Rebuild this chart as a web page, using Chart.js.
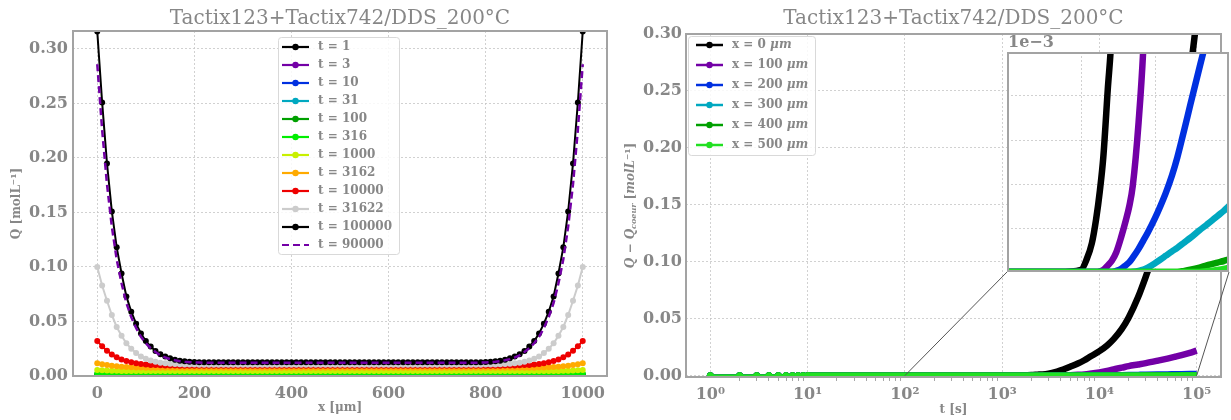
<!DOCTYPE html>
<html>
<head>
<meta charset="utf-8">
<title>Tactix123+Tactix742/DDS_200°C</title>
<script src="https://cdn.jsdelivr.net/npm/chart.js@4.4.1/dist/chart.umd.min.js"></script>
<style>
  body { margin: 0; background: #fff; }
  #page { position: relative; width: 1231px; height: 420px; overflow: hidden; }
  #page canvas { position: absolute; }
</style>
</head>
<body>
<div id="page">
  <canvas id="profiles" width="616" height="420" style="left:0;top:0"></canvas>
  <canvas id="kinetics" width="615" height="420" style="left:616px;top:0"></canvas>
  <canvas id="zoom" width="222" height="220" style="left:1007px;top:52px"></canvas>
</div>
<script>
// ---------- left panel : Q(x) profiles ----------
const depthX = [0,10,20,30,40,50,60,70,80,90,
  100,110,120,130,140,150,160,170,180,190,
  200,210,220,230,240,250,260,270,280,290,
  300,310,320,330,340,350,360,370,380,390,
  400,410,420,430,440,450,460,470,480,490,
  500,510,520,530,540,550,560,570,580,590,
  600,610,620,630,640,650,660,670,680,690,
  700,710,720,730,740,750,760,770,780,790,
  800,810,820,830,840,850,860,870,880,890,
  900,910,920,930,940,950,960,970,980,990,
  1000];

const profileTimes = [1, 3, 10, 31, 100, 316, 1000, 3162, 10000, 31622, 100000];

const q_t1 = [0.0007,0.0007,0.0007,0.0007,0.0007,0.0007,0.0007,0.0007,0.0007,0.0007,
  0.0007,0.0007,0.0007,0.0007,0.0007,0.0007,0.0007,0.0007,0.0007,0.0007,
  0.0007,0.0007,0.0007,0.0007,0.0007,0.0007,0.0007,0.0007,0.0007,0.0007,
  0.0007,0.0007,0.0007,0.0007,0.0007,0.0007,0.0007,0.0007,0.0007,0.0007,
  0.0007,0.0007,0.0007,0.0007,0.0007,0.0007,0.0007,0.0007,0.0007,0.0007,
  0.0007,0.0007,0.0007,0.0007,0.0007,0.0007,0.0007,0.0007,0.0007,0.0007,
  0.0007,0.0007,0.0007,0.0007,0.0007,0.0007,0.0007,0.0007,0.0007,0.0007,
  0.0007,0.0007,0.0007,0.0007,0.0007,0.0007,0.0007,0.0007,0.0007,0.0007,
  0.0007,0.0007,0.0007,0.0007,0.0007,0.0007,0.0007,0.0007,0.0007,0.0007,
  0.0007,0.0007,0.0007,0.0007,0.0007,0.0007,0.0007,0.0007,0.0007,0.0007,
  0.0007];
const q_t3 = [0.0008,0.0008,0.0008,0.0008,0.0008,0.0008,0.0008,0.0008,0.0008,0.0008,
  0.0008,0.0008,0.0008,0.0008,0.0008,0.0008,0.0008,0.0008,0.0008,0.0008,
  0.0008,0.0008,0.0008,0.0008,0.0008,0.0008,0.0008,0.0008,0.0008,0.0008,
  0.0008,0.0008,0.0008,0.0008,0.0008,0.0008,0.0008,0.0008,0.0008,0.0008,
  0.0008,0.0008,0.0008,0.0008,0.0008,0.0008,0.0008,0.0008,0.0008,0.0008,
  0.0008,0.0008,0.0008,0.0008,0.0008,0.0008,0.0008,0.0008,0.0008,0.0008,
  0.0008,0.0008,0.0008,0.0008,0.0008,0.0008,0.0008,0.0008,0.0008,0.0008,
  0.0008,0.0008,0.0008,0.0008,0.0008,0.0008,0.0008,0.0008,0.0008,0.0008,
  0.0008,0.0008,0.0008,0.0008,0.0008,0.0008,0.0008,0.0008,0.0008,0.0008,
  0.0008,0.0008,0.0008,0.0008,0.0008,0.0008,0.0008,0.0008,0.0008,0.0008,
  0.0008];
const q_t10 = [0.0009,0.0009,0.0009,0.0009,0.0009,0.0009,0.0009,0.0009,0.0009,0.0009,
  0.0009,0.0009,0.0009,0.0009,0.0009,0.0009,0.0009,0.0009,0.0009,0.0009,
  0.0009,0.0009,0.0009,0.0009,0.0009,0.0009,0.0009,0.0009,0.0009,0.0009,
  0.0009,0.0009,0.0009,0.0009,0.0009,0.0009,0.0009,0.0009,0.0009,0.0009,
  0.0009,0.0009,0.0009,0.0009,0.0009,0.0009,0.0009,0.0009,0.0009,0.0009,
  0.0009,0.0009,0.0009,0.0009,0.0009,0.0009,0.0009,0.0009,0.0009,0.0009,
  0.0009,0.0009,0.0009,0.0009,0.0009,0.0009,0.0009,0.0009,0.0009,0.0009,
  0.0009,0.0009,0.0009,0.0009,0.0009,0.0009,0.0009,0.0009,0.0009,0.0009,
  0.0009,0.0009,0.0009,0.0009,0.0009,0.0009,0.0009,0.0009,0.0009,0.0009,
  0.0009,0.0009,0.0009,0.0009,0.0009,0.0009,0.0009,0.0009,0.0009,0.0009,
  0.0009];
const q_t31 = [0.0010,0.0010,0.0010,0.0010,0.0010,0.0010,0.0010,0.0010,0.0010,0.0010,
  0.0010,0.0010,0.0010,0.0010,0.0010,0.0010,0.0010,0.0010,0.0010,0.0010,
  0.0010,0.0010,0.0010,0.0010,0.0010,0.0010,0.0010,0.0010,0.0010,0.0010,
  0.0010,0.0010,0.0010,0.0010,0.0010,0.0010,0.0010,0.0010,0.0010,0.0010,
  0.0010,0.0010,0.0010,0.0010,0.0010,0.0010,0.0010,0.0010,0.0010,0.0010,
  0.0010,0.0010,0.0010,0.0010,0.0010,0.0010,0.0010,0.0010,0.0010,0.0010,
  0.0010,0.0010,0.0010,0.0010,0.0010,0.0010,0.0010,0.0010,0.0010,0.0010,
  0.0010,0.0010,0.0010,0.0010,0.0010,0.0010,0.0010,0.0010,0.0010,0.0010,
  0.0010,0.0010,0.0010,0.0010,0.0010,0.0010,0.0010,0.0010,0.0010,0.0010,
  0.0010,0.0010,0.0010,0.0010,0.0010,0.0010,0.0010,0.0010,0.0010,0.0010,
  0.0010];
const q_t100 = [0.0015,0.0014,0.0013,0.0012,0.0012,0.0012,0.0012,0.0012,0.0012,0.0012,
  0.0012,0.0012,0.0012,0.0012,0.0012,0.0012,0.0012,0.0012,0.0012,0.0012,
  0.0012,0.0012,0.0012,0.0012,0.0012,0.0012,0.0012,0.0012,0.0012,0.0012,
  0.0012,0.0012,0.0012,0.0012,0.0012,0.0012,0.0012,0.0012,0.0012,0.0012,
  0.0012,0.0012,0.0012,0.0012,0.0012,0.0012,0.0012,0.0012,0.0012,0.0012,
  0.0012,0.0012,0.0012,0.0012,0.0012,0.0012,0.0012,0.0012,0.0012,0.0012,
  0.0012,0.0012,0.0012,0.0012,0.0012,0.0012,0.0012,0.0012,0.0012,0.0012,
  0.0012,0.0012,0.0012,0.0012,0.0012,0.0012,0.0012,0.0012,0.0012,0.0012,
  0.0012,0.0012,0.0012,0.0012,0.0012,0.0012,0.0012,0.0012,0.0012,0.0012,
  0.0012,0.0012,0.0012,0.0012,0.0012,0.0012,0.0012,0.0012,0.0013,0.0014,
  0.0015];
const q_t316 = [0.0024,0.0022,0.0021,0.0020,0.0019,0.0019,0.0018,0.0018,0.0018,0.0018,
  0.0018,0.0018,0.0018,0.0018,0.0018,0.0018,0.0018,0.0018,0.0018,0.0018,
  0.0018,0.0018,0.0018,0.0018,0.0018,0.0018,0.0018,0.0018,0.0018,0.0018,
  0.0018,0.0018,0.0018,0.0018,0.0018,0.0018,0.0018,0.0018,0.0018,0.0018,
  0.0018,0.0018,0.0018,0.0018,0.0018,0.0018,0.0018,0.0018,0.0018,0.0018,
  0.0018,0.0018,0.0018,0.0018,0.0018,0.0018,0.0018,0.0018,0.0018,0.0018,
  0.0018,0.0018,0.0018,0.0018,0.0018,0.0018,0.0018,0.0018,0.0018,0.0018,
  0.0018,0.0018,0.0018,0.0018,0.0018,0.0018,0.0018,0.0018,0.0018,0.0018,
  0.0018,0.0018,0.0018,0.0018,0.0018,0.0018,0.0018,0.0018,0.0018,0.0018,
  0.0018,0.0018,0.0018,0.0018,0.0018,0.0019,0.0019,0.0020,0.0021,0.0022,
  0.0024];
const q_t1000 = [0.0056,0.0053,0.0051,0.0049,0.0048,0.0047,0.0046,0.0046,0.0045,0.0045,
  0.0045,0.0045,0.0045,0.0045,0.0045,0.0045,0.0045,0.0045,0.0045,0.0045,
  0.0045,0.0045,0.0045,0.0045,0.0045,0.0045,0.0045,0.0045,0.0045,0.0045,
  0.0045,0.0045,0.0045,0.0045,0.0045,0.0045,0.0045,0.0045,0.0045,0.0045,
  0.0045,0.0045,0.0045,0.0045,0.0045,0.0045,0.0045,0.0045,0.0045,0.0045,
  0.0045,0.0045,0.0045,0.0045,0.0045,0.0045,0.0045,0.0045,0.0045,0.0045,
  0.0045,0.0045,0.0045,0.0045,0.0045,0.0045,0.0045,0.0045,0.0045,0.0045,
  0.0045,0.0045,0.0045,0.0045,0.0045,0.0045,0.0045,0.0045,0.0045,0.0045,
  0.0045,0.0045,0.0045,0.0045,0.0045,0.0045,0.0045,0.0045,0.0045,0.0045,
  0.0045,0.0045,0.0045,0.0046,0.0046,0.0047,0.0048,0.0049,0.0051,0.0053,
  0.0056];
const q_t3162 = [0.0118,0.0108,0.0100,0.0094,0.0089,0.0085,0.0082,0.0080,0.0078,0.0077,
  0.0076,0.0076,0.0075,0.0075,0.0075,0.0075,0.0075,0.0075,0.0075,0.0075,
  0.0075,0.0075,0.0075,0.0075,0.0075,0.0075,0.0075,0.0075,0.0075,0.0075,
  0.0075,0.0075,0.0075,0.0075,0.0075,0.0075,0.0075,0.0075,0.0075,0.0075,
  0.0075,0.0075,0.0075,0.0075,0.0075,0.0075,0.0075,0.0075,0.0075,0.0075,
  0.0075,0.0075,0.0075,0.0075,0.0075,0.0075,0.0075,0.0075,0.0075,0.0075,
  0.0075,0.0075,0.0075,0.0075,0.0075,0.0075,0.0075,0.0075,0.0075,0.0075,
  0.0075,0.0075,0.0075,0.0075,0.0075,0.0075,0.0075,0.0075,0.0075,0.0075,
  0.0075,0.0075,0.0075,0.0075,0.0075,0.0075,0.0075,0.0075,0.0075,0.0076,
  0.0076,0.0077,0.0078,0.0080,0.0082,0.0085,0.0089,0.0094,0.0100,0.0108,
  0.0118];
const q_t10000 = [0.032,0.0272,0.0232,0.0198,0.0172,0.0152,0.0137,0.0126,0.0117,0.0111,
  0.0106,0.0102,0.0100,0.0098,0.0097,0.0096,0.0096,0.0095,0.0095,0.0095,
  0.0095,0.0095,0.0095,0.0095,0.0095,0.0095,0.0095,0.0095,0.0095,0.0095,
  0.0095,0.0095,0.0095,0.0095,0.0095,0.0095,0.0095,0.0095,0.0095,0.0095,
  0.0095,0.0095,0.0095,0.0095,0.0095,0.0095,0.0095,0.0095,0.0095,0.0095,
  0.0095,0.0095,0.0095,0.0095,0.0095,0.0095,0.0095,0.0095,0.0095,0.0095,
  0.0095,0.0095,0.0095,0.0095,0.0095,0.0095,0.0095,0.0095,0.0095,0.0095,
  0.0095,0.0095,0.0095,0.0095,0.0095,0.0095,0.0095,0.0095,0.0095,0.0095,
  0.0095,0.0095,0.0095,0.0095,0.0096,0.0096,0.0097,0.0098,0.0100,0.0102,
  0.0106,0.0111,0.0117,0.0126,0.0137,0.0152,0.0172,0.0198,0.0232,0.0272,
  0.032];
const q_t31622 = [0.100,0.083,0.069,0.056,0.045,0.037,0.030,0.025,0.021,0.018,
  0.0158,0.0142,0.0130,0.0122,0.0116,0.0112,0.0109,0.0107,0.0106,0.0105,
  0.0105,0.0104,0.0104,0.0104,0.0104,0.0104,0.0104,0.0104,0.0104,0.0104,
  0.0104,0.0104,0.0104,0.0104,0.0104,0.0104,0.0104,0.0104,0.0104,0.0104,
  0.0104,0.0104,0.0104,0.0104,0.0104,0.0104,0.0104,0.0104,0.0104,0.0104,
  0.0104,0.0104,0.0104,0.0104,0.0104,0.0104,0.0104,0.0104,0.0104,0.0104,
  0.0104,0.0104,0.0104,0.0104,0.0104,0.0104,0.0104,0.0104,0.0104,0.0104,
  0.0104,0.0104,0.0104,0.0104,0.0104,0.0104,0.0104,0.0104,0.0104,0.0104,
  0.0105,0.0105,0.0106,0.0107,0.0109,0.0112,0.0116,0.0122,0.0130,0.0142,
  0.0158,0.018,0.021,0.025,0.030,0.037,0.045,0.056,0.069,0.083,
  0.100];
const q_t100000 = [0.316,0.251,0.195,0.151,0.118,0.094,0.073,0.059,0.048,0.039,
  0.032,0.027,0.023,0.020,0.0178,0.0162,0.0150,0.0141,0.0135,0.0131,
  0.0128,0.0127,0.0126,0.0125,0.0125,0.0125,0.0125,0.0125,0.0125,0.0125,
  0.0125,0.0125,0.0125,0.0125,0.0125,0.0125,0.0125,0.0125,0.0125,0.0125,
  0.0125,0.0125,0.0125,0.0125,0.0125,0.0125,0.0125,0.0125,0.0125,0.0125,
  0.0125,0.0125,0.0125,0.0125,0.0125,0.0125,0.0125,0.0125,0.0125,0.0125,
  0.0125,0.0125,0.0125,0.0125,0.0125,0.0125,0.0125,0.0125,0.0125,0.0125,
  0.0125,0.0125,0.0125,0.0125,0.0125,0.0125,0.0125,0.0125,0.0126,0.0127,
  0.0128,0.0131,0.0135,0.0141,0.0150,0.0162,0.0178,0.020,0.023,0.027,
  0.032,0.039,0.048,0.059,0.073,0.094,0.118,0.151,0.195,0.251,
  0.316];
// dashed check curve, t = 90000
const q_t90000 = [0.286,0.226,0.176,0.137,0.107,0.085,0.067,0.054,0.044,0.036,
  0.030,0.0255,0.022,0.019,0.017,0.0155,0.0144,0.0136,0.0130,0.0126,
  0.0124,0.0123,0.0122,0.0122,0.0122,0.0122,0.0122,0.0122,0.0122,0.0122,
  0.0122,0.0122,0.0122,0.0122,0.0122,0.0122,0.0122,0.0122,0.0122,0.0122,
  0.0122,0.0122,0.0122,0.0122,0.0122,0.0122,0.0122,0.0122,0.0122,0.0122,
  0.0122,0.0122,0.0122,0.0122,0.0122,0.0122,0.0122,0.0122,0.0122,0.0122,
  0.0122,0.0122,0.0122,0.0122,0.0122,0.0122,0.0122,0.0122,0.0122,0.0122,
  0.0122,0.0122,0.0122,0.0122,0.0122,0.0122,0.0122,0.0122,0.0122,0.0123,
  0.0124,0.0126,0.0130,0.0136,0.0144,0.0155,0.017,0.019,0.022,0.0255,
  0.030,0.036,0.044,0.054,0.067,0.085,0.107,0.137,0.176,0.226,
  0.286];

const profiles = [q_t1, q_t3, q_t10, q_t31, q_t100, q_t316, q_t1000, q_t3162, q_t10000, q_t31622, q_t100000];
const profileColors = ['#000000', '#7300a6', '#0030e0', '#00a8c0', '#00a000', '#00ee00',
  '#c8f000', '#ffaa00', '#ee0000', '#cccccc', '#000000'];

const depthTicks = [0, 200, 400, 600, 800, 1000];
const qTicks = [0, 0.05, 0.10, 0.15, 0.20, 0.25, 0.30];

// ---------- right panel : Q - Qcoeur(t) at several depths ----------
const timeS = [1, 2, 3, 4, 5, 6, 7, 8, 9, 10, 20, 50, 100, 200, 500,
  1000, 1200, 1400, 1600, 1800, 2000, 2300, 2600, 3000, 3500, 4000, 4500, 5000,
  6000, 7000, 8000, 10000, 12000, 14000, 17000, 20000, 25000, 30000,
  40000, 50000, 60000, 70000, 85000, 100000];

const depths = [0, 100, 200, 300, 400, 500];
const dq_x0 = [0,0,0,0,0,0,0,0,0,0,0,0,0,0,0,
  0.00001,0.00006,0.00013,0.00024,0.00037,0.00052,0.00083,0.0011,0.0018,0.003,0.0046,0.0062,0.0078,
  0.0106,0.0135,0.0165,0.0215,0.0265,0.032,0.041,0.051,0.069,0.087,
  0.118,0.15,0.182,0.215,0.264,0.313];
const dq_x100 = [0,0,0,0,0,0,0,0,0,0,0,0,0,0,0,
  0,0,0,0,0.000003,0.00001,0.00003,0.00005,0.00009,0.00016,0.00023,0.0003,0.00039,
  0.00068,0.00104,0.0016,0.0028,0.0042,0.0055,0.007,0.0084,0.0098,0.011,
  0.0132,0.015,0.0166,0.018,0.020,0.022];
const dq_x200 = [0,0,0,0,0,0,0,0,0,0,0,0,0,0,0,
  0,0,0,0,0,0,0,0,0.000005,0.000015,0.00003,0.000045,0.000065,
  0.000105,0.000145,0.00018,0.000245,0.000305,0.00036,0.00044,0.00052,0.00065,0.00076,
  0.00093,0.00106,0.00116,0.00125,0.00136,0.00145];
const dq_x300 = [0,0,0,0,0,0,0,0,0,0,0,0,0,0,0,
  0,0,0,0,0,0,0,0,0,0,0,0,0.000001,
  0.000005,0.000011,0.00002,0.00004,0.000058,0.000074,0.000094,0.00011,0.000135,0.000155,
  0.00019,0.000215,0.000236,0.000255,0.000278,0.0003];
const dq_x400 = [0,0,0,0,0,0,0,0,0,0,0,0,0,0,0,
  0,0,0,0,0,0,0,0,0,0,0,0,0,
  0,0,0,0,0,0,0,0,0.000005,0.00001,
  0.00002,0.00003,0.000037,0.000043,0.00005,0.000057];
const dq_x500 = [0,0,0,0,0,0,0,0,0,0,0,0,0,0,0,
  0,0,0,0,0,0,0,0,0,0,0,0,0,
  0,0,0,0,0,0,0,0,0,0,
  0,0.000003,0.000006,0.000009,0.000014,0.00002];
const depthSeries = [dq_x0, dq_x100, dq_x200, dq_x300, dq_x400, dq_x500];
const depthColors = ['#000000', '#7300a6', '#0030e0', '#00a8c0', '#00a000', '#22e022'];

const timeMajor = [1, 10, 100, 1000, 10000, 100000];
const zoomTimeTicks = [1000, 10000];
const zoomQTicks = [0.0002, 0.0004, 0.0006, 0.0008];

// ---------- styling ----------
const GRAY = '#878787';
const GRID = '#c6c6c6';
const SERIF = "'DejaVu Serif', serif";
const TITLE = 'Tactix123+Tactix742/DDS_200°C';
const SUP = { '0': '⁰', '1': '¹', '2': '²', '3': '³', '4': '⁴', '5': '⁵' };

function tickFont(size) { return { family: SERIF, size: size, weight: 'bold' }; }

function drawLegend(c, chart, lg) {
  c.fillStyle = 'rgba(255,255,255,0.85)';
  c.strokeStyle = '#d9d9d9';
  c.lineWidth = 1;
  c.beginPath();
  c.roundRect(lg.x + 0.5, lg.y + 0.5, lg.w, lg.h, 3);
  c.fill();
  c.stroke();
  chart.data.datasets.forEach((ds, i) => {
    const y = lg.firstY + i * lg.step;
    c.strokeStyle = ds.borderColor;
    c.lineWidth = lg.lineWidth;
    c.setLineDash(ds.borderDash || []);
    c.beginPath();
    c.moveTo(lg.lineX0, y);
    c.lineTo(lg.lineX1, y);
    c.stroke();
    c.setLineDash([]);
    if (ds.showMarker) {
      c.fillStyle = ds.borderColor;
      c.beginPath();
      c.arc((lg.lineX0 + lg.lineX1) / 2, y, 3.2, 0, Math.PI * 2);
      c.fill();
    }
    c.fillStyle = GRAY;
    c.textAlign = 'left';
    c.textBaseline = 'middle';
    let x = lg.textX;
    let parts = [{ t: ds.label, f: 'bold 12px ' + SERIF }];
    if (lg.italicUnit) {
      const k = ds.label.lastIndexOf(' ');
      parts = [{ t: ds.label.slice(0, k + 1), f: 'bold 12px ' + SERIF },
               { t: ds.label.slice(k + 1), f: 'italic bold 12px ' + SERIF }];
    }
    parts.forEach(p => {
      c.font = p.f;
      c.fillText(p.t, x, y);
      x += c.measureText(p.t).width;
    });
  });
}

function decor(cfg) {
  return {
    id: 'decor',
    beforeDraw(chart) {
      const c = chart.ctx;
      c.save();
      c.fillStyle = '#ffffff';
      c.fillRect(0, 0, chart.width, chart.height);
      c.restore();
    },
    afterDraw(chart) {
      const c = chart.ctx, a = chart.chartArea;
      c.save();
      c.strokeStyle = '#a3a3a3';
      c.lineWidth = 2;
      if (cfg.inner) c.strokeRect(a.left + 1, a.top + 1, a.right - a.left - 2, a.bottom - a.top - 2);
      else c.strokeRect(a.left, a.top, a.right - a.left, a.bottom - a.top);
      if (cfg.title) {
        c.font = '20px ' + SERIF;
        c.fillStyle = GRAY;
        c.textAlign = 'center';
        c.textBaseline = 'middle';
        c.fillText(cfg.title, (a.left + a.right) / 2, 19);
      }
      if (cfg.extra) cfg.extra(chart, c);
      if (cfg.legend) drawLegend(c, chart, cfg.legend);
      c.restore();
    }
  };
}

const baseOptions = () => ({
  responsive: false,
  animation: false,
  devicePixelRatio: 1,
  events: [],
  plugins: { legend: { display: false }, tooltip: { enabled: false }, title: { display: false } }
});

// ---------- left chart ----------
// order: later series are drawn on top, as in the original plot
const profileDatasets = profileTimes.map((t, i) => ({
  label: 't = ' + t,
  data: depthX.map((x, j) => ({ x: x, y: profiles[i][j] })),
  borderColor: profileColors[i],
  backgroundColor: profileColors[i],
  pointBackgroundColor: profileColors[i],
  pointBorderWidth: 0,
  pointRadius: 3,
  borderWidth: 2,
  tension: 0,
  clip: 0,
  order: -i,
  showMarker: true
}));
profileDatasets.push({
  label: 't = 90000',
  data: depthX.map((x, j) => ({ x: x, y: q_t90000[j] })),
  borderColor: '#7300a6',
  borderDash: [7, 4],
  borderWidth: 2.5,
  pointRadius: 0,
  tension: 0,
  clip: 0,
  order: -20,
  showMarker: false
});

const leftOpts = baseOptions();
leftOpts.layout = { padding: { left: 0, top: 31, right: 9, bottom: 0 } };
leftOpts.scales = {
  x: {
    type: 'linear', min: -50, max: 1050,
    afterBuildTicks: s => { s.ticks = depthTicks.map(v => ({ value: v })); },
    afterFit: s => { s.height = 44; },
    grid: { color: GRID, lineWidth: 0.8, drawTicks: false },
    border: { display: false, dash: [2, 2] },
    ticks: { color: GRAY, font: tickFont(16), padding: 8, maxRotation: 0, autoSkip: false, callback: v => String(v) },
    title: { display: true, text: 'x [μm]', color: GRAY, font: tickFont(12), padding: { top: 0, bottom: 5 } }
  },
  y: {
    type: 'linear', min: 0, max: 0.3165,
    afterBuildTicks: s => { s.ticks = qTicks.map(v => ({ value: v })); },
    afterFit: s => { s.width = 73; },
    grid: { color: GRID, lineWidth: 0.8, drawTicks: false },
    border: { display: false, dash: [2, 2] },
    ticks: { color: GRAY, font: tickFont(16), padding: 5, callback: v => v.toFixed(2) },
    title: { display: true, text: 'Q [molL⁻¹]', color: GRAY, font: tickFont(12), padding: { top: 10, bottom: 0 } }
  }
};

new Chart(document.getElementById('profiles'), {
  type: 'line',
  data: { datasets: profileDatasets },
  options: leftOpts,
  plugins: [decor({
    title: TITLE,
    legend: { x: 278, y: 37, w: 121, h: 217, firstY: 47, step: 18, lineX0: 282, lineX1: 309, textX: 318, lineWidth: 2.2 }
  })]
});

// ---------- right chart ----------
const timeTicks = [];
timeMajor.forEach(m => {
  timeTicks.push({ value: m, major: true });
  if (m < 100000) [2, 3, 4, 5, 6, 7, 8, 9].forEach(k => timeTicks.push({ value: m * k, major: false }));
});

const depthDatasets = depths.map((d, i) => ({
  label: 'x = ' + d + ' μm',
  data: timeS.map((t, j) => ({ x: t, y: depthSeries[i][j] })),
  borderColor: depthColors[i],
  backgroundColor: depthColors[i],
  pointBackgroundColor: depthColors[i],
  pointBorderWidth: 0,
  pointRadius: ctx => (ctx.dataIndex <= 9 ? 3.5 : 0),
  borderWidth: 6.5,
  segment: { borderWidth: ctx => (ctx.p0DataIndex < 9 ? 2.2 : 6.5) },
  cubicInterpolationMode: 'monotone',
  clip: 0,
  order: -i,
  showMarker: true
}));

function drawQcoeurTitle(c, x, yc) {
  const parts = [
    { t: 'Q − Q', f: 'italic bold 12px ' + SERIF, dy: 0 },
    { t: 'coeur', f: 'italic bold 8px ' + SERIF, dy: 3 },
    { t: ' [', f: 'bold 12px ' + SERIF, dy: 0 },
    { t: 'molL', f: 'italic bold 12px ' + SERIF, dy: 0 },
    { t: '⁻¹', f: 'bold 12px ' + SERIF, dy: 0 },
    { t: ']', f: 'bold 12px ' + SERIF, dy: 0 }
  ];
  let total = 0;
  parts.forEach(p => { c.font = p.f; p.w = c.measureText(p.t).width; total += p.w; });
  c.save();
  c.translate(x, yc);
  c.rotate(-Math.PI / 2);
  c.fillStyle = GRAY;
  c.textAlign = 'left';
  c.textBaseline = 'middle';
  let px = -total / 2;
  parts.forEach(p => { c.font = p.f; c.fillText(p.t, px, p.dy); px += p.w; });
  c.restore();
}

const rightOpts = baseOptions();
rightOpts.layout = { padding: { left: 0, top: 34, right: 10, bottom: 0 } };
rightOpts.scales = {
  x: {
    type: 'logarithmic', min: 0.5623, max: 177828,
    afterBuildTicks: s => { s.ticks = timeTicks.map(t => ({ value: t.value, major: t.major })); },
    afterFit: s => { s.height = 43; },
    grid: {
      color: ctx => (ctx.tick && ctx.tick.major ? GRID : 'rgba(0,0,0,0)'),
      tickColor: ctx => (ctx.tick && !ctx.tick.major ? '#a8a8a8' : 'rgba(0,0,0,0)'),
      lineWidth: 0.8, drawTicks: true, tickLength: 4, tickWidth: 1
    },
    border: { display: false, dash: [2, 2] },
    ticks: {
      color: GRAY, font: tickFont(16), padding: 4, maxRotation: 0, autoSkip: false,
      callback: v => {
        const e = Math.round(Math.log10(v));
        return Math.abs(Math.pow(10, e) - v) < 1e-6 * v ? '10' + SUP[String(e)] : '';
      }
    },
    title: { display: true, text: 't [s]', color: GRAY, font: tickFont(12), padding: { top: 0, bottom: 3 } }
  },
  y: {
    type: 'linear', min: -0.0012, max: 0.30,
    afterBuildTicks: s => { s.ticks = qTicks.map(v => ({ value: v })); },
    afterFit: s => { s.width = 70; },
    grid: { color: GRID, lineWidth: 0.8, drawTicks: false },
    border: { display: false, dash: [2, 2] },
    ticks: { color: GRAY, font: tickFont(16), padding: 4, callback: v => v.toFixed(2) }
  }
};

const INSET = { left: 1007 - 616, right: 1229 - 616, bottom: 272 };

new Chart(document.getElementById('kinetics'), {
  type: 'line',
  data: { datasets: depthDatasets },
  options: rightOpts,
  plugins: [decor({
    title: TITLE,
    legend: { x: 72, y: 36, w: 127, h: 119, firstY: 45, step: 20, lineX0: 80, lineX1: 107, textX: 116, lineWidth: 2.5, italicUnit: true },
    extra: (chart, c) => {
      const xs = chart.scales.x, ys = chart.scales.y;
      c.strokeStyle = '#555555';
      c.lineWidth = 1;
      c.beginPath();
      c.moveTo(INSET.left, INSET.bottom);
      c.lineTo(xs.getPixelForValue(100), ys.getPixelForValue(0));
      c.moveTo(INSET.right, INSET.bottom);
      c.lineTo(xs.getPixelForValue(100000), ys.getPixelForValue(0));
      c.stroke();
      c.fillStyle = GRAY;
      c.font = 'bold 16px ' + SERIF;
      c.textAlign = 'left';
      c.textBaseline = 'bottom';
      c.fillText('1e−3', INSET.left + 1, 51);
      drawQcoeurTitle(c, 15, (chart.chartArea.top + chart.chartArea.bottom) / 2);
    }
  })]
});

// ---------- inset : zoom on the onset, 1e2 .. 1e5 s ----------
const zoomDatasets = depths.map((d, i) => ({
  label: 'x = ' + d + ' μm',
  data: timeS.map((t, j) => ({ x: t, y: depthSeries[i][j] })),
  borderColor: depthColors[i],
  borderWidth: 6.5,
  pointRadius: 0,
  order: -i,
  cubicInterpolationMode: 'monotone'
}));

const zoomOpts = baseOptions();
zoomOpts.layout = { padding: 0 };
zoomOpts.scales = {
  x: {
    type: 'logarithmic', min: 100, max: 100000,
    afterBuildTicks: s => { s.ticks = zoomTimeTicks.map(v => ({ value: v })); },
    afterFit: s => { s.height = 0; },
    grid: { color: GRID, lineWidth: 0.8, drawTicks: false },
    border: { display: false, dash: [2, 2] },
    ticks: { display: false }
  },
  y: {
    type: 'linear', min: 0, max: 0.001,
    afterBuildTicks: s => { s.ticks = zoomQTicks.map(v => ({ value: v })); },
    afterFit: s => { s.width = 0; },
    grid: { color: GRID, lineWidth: 0.8, drawTicks: false },
    border: { display: false, dash: [2, 2] },
    ticks: { display: false }
  }
};

new Chart(document.getElementById('zoom'), {
  type: 'line',
  data: { datasets: zoomDatasets },
  options: zoomOpts,
  plugins: [decor({ inner: true })]
});
</script>
</body>
</html>
